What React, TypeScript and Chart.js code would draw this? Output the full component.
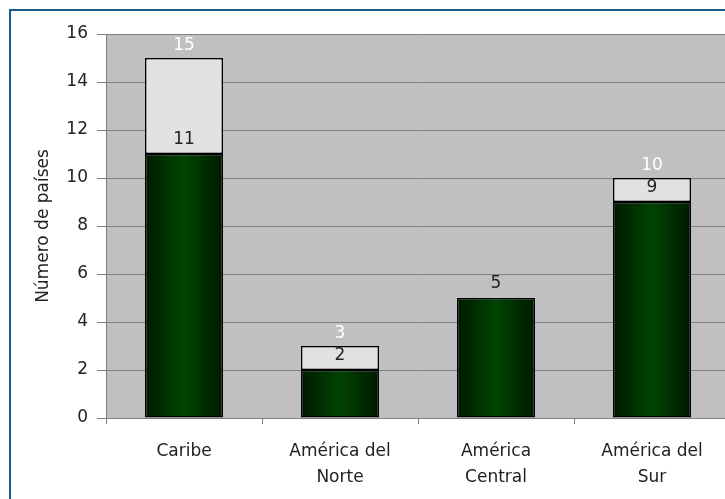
import React, { useEffect, useRef } from "react";
import { Chart, registerables } from "chart.js";

Chart.register(...registerables);

const categories: string[][] = [["Caribe"], ["América del", "Norte"], ["América", "Central"], ["América del", "Sur"]];
const lowerValues = [11, 2, 5, 9];
const upperValues = [4, 1, 0, 1];
const totals = [15, 3, 5, 10];
const yMin = 0;
const yMax = 16;
const yStep = 2;
const yTitle = "Número de países";

const FONT = "'DejaVu Sans', 'Liberation Sans', Arial, sans-serif";

const bgPlugin = {
  id: "plotBg",
  beforeDraw(chart: any) {
    const { ctx, chartArea } = chart;
    if (!chartArea) return;
    ctx.save();
    ctx.fillStyle = "#c0c0c0";
    ctx.fillRect(chartArea.left, chartArea.top, chartArea.right - chartArea.left, chartArea.bottom - chartArea.top);
    ctx.restore();
  },
};

const labelPlugin = {
  id: "valueLabels",
  afterDatasetsDraw(chart: any) {
    const { ctx } = chart;
    const y = chart.scales.y;
    const x = chart.scales.x;
    ctx.save();
    ctx.font = `17px ${FONT}`;
    ctx.textAlign = "center";
    ctx.textBaseline = "middle";
    for (let i = 0; i < lowerValues.length; i++) {
      const cx = x.getPixelForValue(i);
      if (lowerValues[i] > 0) {
        ctx.fillStyle = "#222222";
        ctx.fillText(String(lowerValues[i]), cx, y.getPixelForValue(lowerValues[i]) - 14);
      }
      if (upperValues[i] > 0) {
        ctx.fillStyle = "#ffffff";
        ctx.fillText(String(totals[i]), cx, y.getPixelForValue(totals[i]) - 12);
      }
    }
    ctx.restore();
  },
};

function greenFill(c: any) {
  const chart = c.chart;
  const xs = chart.scales && chart.scales.x;
  if (!chart.chartArea || !xs || c.dataIndex === undefined) return "#003300";
  const cx = xs.getPixelForValue(c.dataIndex);
  const w = (xs.width / categories.length) * 0.5;
  const g = chart.ctx.createLinearGradient(cx - w / 2, 0, cx + w / 2, 0);
  g.addColorStop(0, "#001a00");
  g.addColorStop(0.5, "#004400");
  g.addColorStop(1, "#001a00");
  return g;
}

export default function App() {
  const ref = useRef<HTMLCanvasElement>(null);
  useEffect(() => {
    if (!ref.current) return;
    const chart = new Chart(ref.current, {
      type: "bar",
      data: {
        labels: categories as any,
        datasets: [
          {
            data: lowerValues,
            backgroundColor: greenFill as any,
            borderColor: "#000000",
            borderWidth: 1.5,
            borderSkipped: false,
            stack: "s",
          },
          {
            data: upperValues,
            backgroundColor: "#e2e2e2",
            borderColor: "#000000",
            borderWidth: 1.5,
            borderSkipped: false,
            stack: "s",
          },
        ],
      },
      options: {
        animation: false,
        responsive: false,
        devicePixelRatio: 1,
        layout: { padding: { top: 34, left: 0, right: 0, bottom: 0 } },
        datasets: { bar: { categoryPercentage: 0.5, barPercentage: 1 } },
        plugins: { legend: { display: false }, tooltip: { enabled: false } },
        scales: {
          x: {
            stacked: true,
            afterFit: (s: any) => { s.height = 81; },
            grid: { display: true, drawOnChartArea: false, offset: true, tickLength: 6, color: "#808080" },
            border: { color: "#808080" },
            ticks: { color: "#222222", font: { family: FONT, size: 17, lineHeight: 1.55 }, padding: 14, maxRotation: 0, autoSkip: false },
          },
          y: {
            stacked: true,
            min: yMin,
            max: yMax,
            afterFit: (s: any) => { s.width = 106; },
            grid: { color: "#808080", tickLength: 9 },
            border: { color: "#808080" },
            ticks: { stepSize: yStep, color: "#222222", font: { family: FONT, size: 17 }, padding: 9 },
            title: { display: true, text: yTitle, color: "#222222", font: { family: FONT, size: 17 }, padding: { top: 33, bottom: 0 } },
          },
        },
      },
      plugins: [bgPlugin, labelPlugin],
    });
    return () => chart.destroy();
  }, []);
  return (
    <div style={{ position: "fixed", left: 0, top: 0, width: 725, height: 499, overflow: "hidden", background: "#ffffff" }}>
      <canvas ref={ref} width={730} height={499} style={{ position: "absolute", left: 0, top: 0, width: 730, height: 499 }} />
      <div style={{ position: "absolute", left: 9, top: 9, width: 800, height: 600, borderLeft: "2px solid #1c5a8a", borderTop: "2px solid #1c5a8a", pointerEvents: "none" }} />
    </div>
  );
}
